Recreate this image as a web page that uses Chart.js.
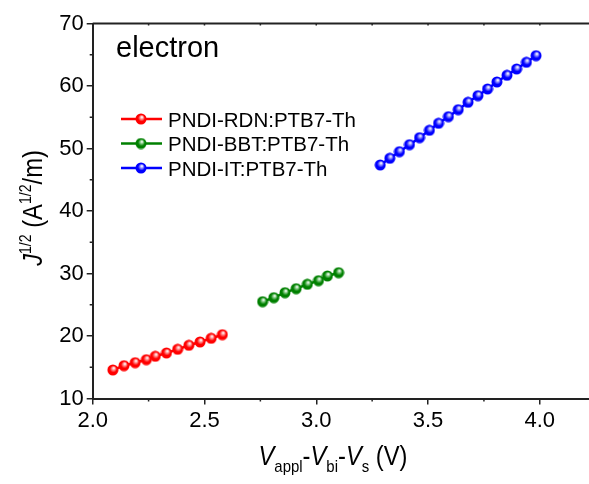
<!DOCTYPE html>
<html>
<head>
<meta charset="utf-8">
<script src="https://cdn.jsdelivr.net/npm/chart.js@4/dist/chart.umd.min.js"></script>
<style>
  html, body { margin: 0; padding: 0; background: #fff; }
  #wrap { width: 589px; height: 484px; position: relative; }
</style>
</head>
<body>
<div id="wrap"><canvas id="jv"></canvas></div>
<script>
const xRed = [2.09, 2.14, 2.19, 2.24, 2.28, 2.33, 2.38, 2.43, 2.48, 2.53, 2.58];
const yRed = [14.56, 15.25, 15.73, 16.21, 16.75, 17.28, 17.87, 18.51, 19.04, 19.63, 20.21];

const xGreen = [2.76, 2.81, 2.86, 2.91, 2.96, 3.01, 3.05, 3.10];
const yGreen = [25.49, 26.13, 26.93, 27.57, 28.27, 28.85, 29.60, 30.13];

const xBlue = [3.286, 3.329, 3.372, 3.417, 3.462, 3.506, 3.547, 3.591, 3.635,
               3.679, 3.723, 3.766, 3.808, 3.853, 3.896, 3.940, 3.983];
const yBlue = [47.36, 48.43, 49.49, 50.61, 51.73, 52.91, 54.03, 55.09, 56.21,
               57.39, 58.45, 59.52, 60.64, 61.71, 62.72, 63.79, 64.85];

const seriesNames = ['PNDI-RDN:PTB7-Th', 'PNDI-BBT:PTB7-Th', 'PNDI-IT:PTB7-Th'];
const xTicks = [2.0, 2.5, 3.0, 3.5, 4.0];
const yTicks = [10, 20, 30, 40, 50, 60, 70];

const FONT = '"Liberation Sans", Arial, sans-serif';

// little shaded ball used as marker
function ball(color, light) {
  const c = document.createElement('canvas');
  c.width = 12; c.height = 12;
  const g = c.getContext('2d');
  const grad = g.createRadialGradient(7, 4, 0.3, 6, 6, 6);
  grad.addColorStop(0, '#ffffff');
  grad.addColorStop(0.22, light);
  grad.addColorStop(0.55, color);
  grad.addColorStop(1, color);
  g.fillStyle = grad;
  g.beginPath();
  g.arc(6, 6, 5.5, 0, Math.PI * 2);
  g.fill();
  return c;
}

const balls = [ball('#ff0000', '#ff9a9a'), ball('#008000', '#8fd08f'), ball('#0000ff', '#9a9aff')];
const colors = ['#ff0000', '#008000', '#0000ff'];

function pts(xs, ys) {
  return xs.map((x, i) => ({ x: x, y: ys[i] }));
}

function mkSet(i, xs, ys) {
  return {
    label: seriesNames[i],
    data: pts(xs, ys),
    showLine: true,
    borderColor: colors[i],
    backgroundColor: colors[i],
    borderWidth: 2.5,
    pointStyle: balls[i],
    pointRadius: 5,
    pointHoverRadius: 5
  };
}

// draw runs of text with different sizes / offsets
function drawRuns(ctx, runs, x, y, sx) {
  let w = 0;
  runs.forEach(r => {
    ctx.font = (r.italic ? 'italic ' : '') + r.size + 'px ' + FONT;
    w += ctx.measureText(r.t).width;
  });
  ctx.save();
  ctx.translate(x, y);
  ctx.scale(sx, 1);
  let cx = -w / 2;
  runs.forEach(r => {
    ctx.font = (r.italic ? 'italic ' : '') + r.size + 'px ' + FONT;
    ctx.fillText(r.t, cx, r.dy || 0);
    cx += ctx.measureText(r.t).width;
  });
  ctx.restore();
}

// the plot runs off the right edge of the picture, stretch the x axis to it
const stretch = {
  id: 'stretch',
  afterLayout(chart) {
    const s = chart.scales.x;
    s.right = chart.width;
    s.width = s.right - s.left;
    s.configure();
    chart.chartArea.right = chart.width;
    chart.chartArea.width = chart.chartArea.right - chart.chartArea.left;
  }
};

const decor = {
  id: 'decor',
  afterDraw(chart) {
    const ctx = chart.ctx;
    const a = chart.chartArea;
    const xs = chart.scales.x, ys = chart.scales.y;
    ctx.save();
    ctx.strokeStyle = '#222';
    ctx.lineWidth = 2;
    // top frame
    ctx.beginPath();
    ctx.moveTo(a.left, a.top);
    ctx.lineTo(a.right, a.top);
    ctx.stroke();
    // minor ticks
    ctx.lineWidth = 1.5;
    ctx.beginPath();
    [15, 25, 35, 45, 55, 65].forEach(v => {
      const py = ys.getPixelForValue(v);
      ctx.moveTo(a.left, py); ctx.lineTo(a.left - 3, py);
    });
    [2.25, 2.75, 3.25, 3.75].forEach(v => {
      const px = xs.getPixelForValue(v);
      ctx.moveTo(px, a.bottom); ctx.lineTo(px, a.bottom + 3);
    });
    [2.25, 2.5, 2.75, 3.0, 3.25, 3.5, 3.75, 4.0].forEach(v => {
      const px = xs.getPixelForValue(v);
      ctx.moveTo(px, a.top); ctx.lineTo(px, a.top + 2);
    });
    ctx.stroke();

    ctx.fillStyle = '#000';
    ctx.textBaseline = 'alphabetic';
    ctx.textAlign = 'left';

    // x title
    drawRuns(ctx, [
      { t: 'V', size: 27, italic: true },
      { t: 'appl', size: 17, dy: 7 },
      { t: '-', size: 27 },
      { t: 'V', size: 27, italic: true },
      { t: 'bi', size: 17, dy: 7 },
      { t: '-', size: 27 },
      { t: 'V', size: 27, italic: true },
      { t: 's', size: 17, dy: 7 },
      { t: ' (V)', size: 27 }
    ], 333, 465, 0.88);

    // y title
    ctx.save();
    ctx.translate(42, 208);
    ctx.rotate(-Math.PI / 2);
    drawRuns(ctx, [
      { t: 'J', size: 27, italic: true },
      { t: '1/2', size: 16, dy: -11 },
      { t: ' (A', size: 27 },
      { t: '1/2', size: 16, dy: -11 },
      { t: '/m)', size: 27 }
    ], 0, 0, 0.88);
    ctx.restore();

    // label
    ctx.font = '29px ' + FONT;
    ctx.fillText('electron', 116, 57);

    // legend
    const rows = [119, 143.5, 168];
    rows.forEach((ry, i) => {
      ctx.strokeStyle = colors[i];
      ctx.lineWidth = 2.5;
      ctx.beginPath();
      ctx.moveTo(121, ry); ctx.lineTo(162, ry);
      ctx.stroke();
      ctx.drawImage(balls[i], 141 - 6, ry - 6);
      ctx.fillStyle = '#000';
      ctx.font = '20.5px ' + FONT;
      ctx.fillText(seriesNames[i], 168, ry + 7.5);
    });
    ctx.restore();
  }
};

const config = {
  type: 'scatter',
  data: {
    datasets: [
      mkSet(0, xRed, yRed),
      mkSet(1, xGreen, yGreen),
      mkSet(2, xBlue, yBlue)
    ]
  },
  options: {
    responsive: true,
    maintainAspectRatio: false,
    animation: false,
    events: [],
    layout: { padding: { top: 23.5, right: 0, left: 0, bottom: 0 } },
    plugins: { legend: { display: false }, tooltip: { enabled: false } },
    scales: {
      x: {
        type: 'linear',
        min: 2.0,
        max: 4.22,
        afterBuildTicks: s => { s.ticks = xTicks.map(v => ({ value: v })); },
        afterFit: s => { s.height = 85.5; },
        ticks: {
          callback: v => v.toFixed(1),
          color: '#000',
          font: { family: FONT, size: 22 },
          padding: 3,
          maxRotation: 0
        },
        grid: { drawOnChartArea: false, tickLength: 6, color: '#222', lineWidth: 1.5 },
        border: { color: '#222', width: 2 }
      },
      y: {
        type: 'linear',
        min: 10,
        max: 70,
        afterBuildTicks: s => { s.ticks = yTicks.map(v => ({ value: v })); },
        afterFit: s => { s.width = 92.7; },
        ticks: {
          color: '#000',
          font: { family: FONT, size: 22 },
          padding: 3
        },
        grid: { drawOnChartArea: false, tickLength: 6, color: '#222', lineWidth: 1.5 },
        border: { color: '#222', width: 2 }
      }
    }
  },
  plugins: [stretch, decor]
};

const jvChart = new Chart(document.getElementById('jv'), config);
</script>
</body>
</html>
